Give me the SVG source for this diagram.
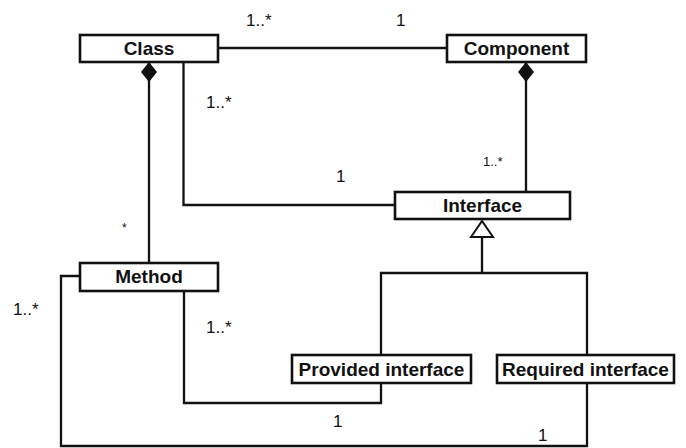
<svg xmlns="http://www.w3.org/2000/svg" width="686" height="448" viewBox="0 0 686 448">
<style>
.box{fill:#fff;stroke:#111;stroke-width:2.6}
.name{font-family:"Liberation Sans",Arial,sans-serif;font-weight:bold;font-size:19px;fill:#111;text-anchor:middle}
.line{fill:none;stroke:#111;stroke-width:2.3}
.mult{font-family:"Liberation Sans",Arial,sans-serif;font-size:17px;fill:#111}
.small{font-size:13px}
</style>
<defs>
<marker id="diamond" markerUnits="userSpaceOnUse" markerWidth="22" markerHeight="18" viewBox="-1 -9 22 18" refX="0" refY="0" orient="auto">
<path d="M0,0 L10,-8 L20,0 L10,8 Z" fill="#111"/>
</marker>
<marker id="tri" markerUnits="userSpaceOnUse" markerWidth="20" markerHeight="26" viewBox="-2 -13 20 26" refX="16" refY="0" orient="auto">
<path d="M0,-11 L16,0 L0,11 Z" fill="#fff" stroke="#111" stroke-width="2"/>
</marker>
</defs>
<g id="connectors">
<path class="line" d="M218,48 H447"/>
<path class="line" d="M149,62 V263" marker-start="url(#diamond)"/>
<path class="line" d="M526,62 V192" marker-start="url(#diamond)"/>
<path class="line" d="M183.5,62 V205 H395"/>
<path class="line" d="M482,273 V221" marker-end="url(#tri)"/>
<path class="line" d="M381,355 V273 H587 V355"/>
<path class="line" d="M184,291 V403 H381 V383"/>
<path class="line" d="M80,276 H61 V446 H587 V383"/>
</g>
<g id="labels">
<text class="mult" x="246" y="26">1..*</text>
<text class="mult" x="396" y="26">1</text>
<text class="mult" x="206" y="108">1..*</text>
<text class="mult" x="336" y="182">1</text>
<text class="mult small" x="483" y="166">1..*</text>
<text class="mult" x="122" y="232" style="font-size:12px">*</text>
<text class="mult" x="13" y="315">1..*</text>
<text class="mult" x="206" y="333">1..*</text>
<text class="mult" x="333" y="427">1</text>
<text class="mult" x="538" y="441">1</text>
</g>
<g id="class"><rect class="box" x="80" y="35" width="138" height="27"/><text class="name" x="149" y="55">Class</text></g>
<g id="component"><rect class="box" x="447" y="35" width="139" height="27"/><text class="name" x="516.5" y="55">Component</text></g>
<g id="interface"><rect class="box" x="395" y="192" width="175" height="27"/><text class="name" x="482.5" y="212">Interface</text></g>
<g id="method"><rect class="box" x="80" y="263" width="138" height="28"/><text class="name" x="149" y="283">Method</text></g>
<g id="provided-interface"><rect class="box" x="292" y="355" width="179" height="28"/><text class="name" x="381.5" y="376">Provided interface</text></g>
<g id="required-interface"><rect class="box" x="497" y="355" width="177" height="28"/><text class="name" x="585.5" y="376">Required interface</text></g>
</svg>
